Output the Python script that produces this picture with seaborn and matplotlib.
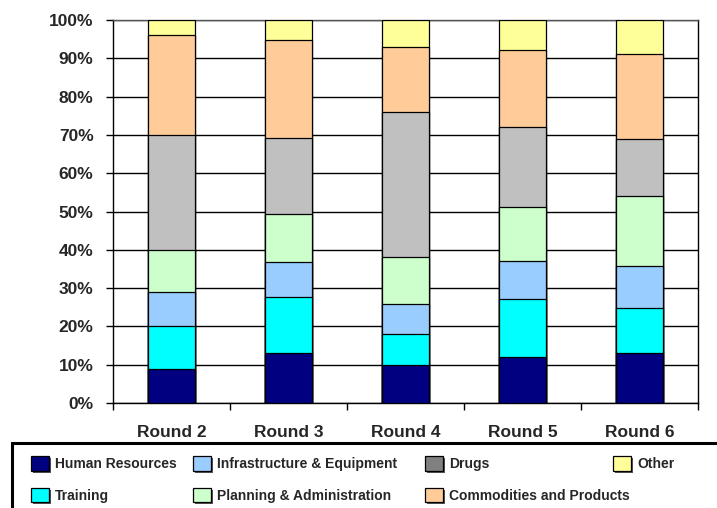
import matplotlib
matplotlib.use("Agg")
import matplotlib.pyplot as plt
import matplotlib.patches as mpatches
import matplotlib.patheffects as pe
from matplotlib.ticker import FuncFormatter, FixedLocator
import numpy as np
import pandas as pd
import seaborn as sns

rounds = ["Round 2", "Round 3", "Round 4", "Round 5", "Round 6"]
series_names = ["Human Resources", "Training", "Infrastructure & Equipment",
                "Planning & Administration", "Drugs", "Commodities and Products", "Other"]
human_resources = [9.0, 13.0, 9.9, 12.0, 13.1]
training = [11.0, 14.6, 8.2, 15.1, 11.8]
infrastructure = [9.0, 9.1, 7.8, 9.9, 11.0]
planning = [11.0, 12.7, 12.3, 14.1, 18.1]
drugs = [30.0, 19.9, 37.7, 21.0, 14.9]
commodities = [26.0, 25.6, 17.0, 20.1, 22.2]
other = [4.0, 5.1, 7.1, 7.8, 8.9]

bar_colors = ["#000080", "#00FFFF", "#99CCFF", "#CCFFCC", "#C0C0C0", "#FFCC99", "#FFFF99"]
legend_colors = ["#000080", "#00FFFF", "#99CCFF", "#CCFFCC", "#808080", "#FFCC99", "#FFFF99"]

values = [human_resources, training, infrastructure, planning, drugs, commodities, other]
df = pd.DataFrame({name: v for name, v in zip(series_names, values)}, index=rounds)
cum = df.cumsum(axis=1)
cum = cum.div(cum[series_names[-1]], axis=0) * 100

sns.set_style("white")
plt.rcParams["font.family"] = ["Liberation Sans", "DejaVu Sans"]
plt.rcParams["font.weight"] = "bold"

W, H = 717, 508
fig = plt.figure(figsize=(W / 100, H / 100), dpi=100)
ax = fig.add_axes([113 / W, 1 - 403 / H, (698 - 113) / W, (403 - 20) / H])

for name, color in reversed(list(zip(series_names, bar_colors))):
    sns.barplot(x=list(cum.index), y=cum[name].values, color=color, saturation=1,
                width=0.4, edgecolor="black", linewidth=0.9, ax=ax, zorder=3)

ax.set_ylim(0, 100)
ax.set_xlim(-0.5, 4.5)
ax.set_yticks(np.arange(0, 101, 10))
ax.yaxis.set_major_formatter(FuncFormatter(lambda v, p: f"{int(v)}%"))
ax.yaxis.grid(True, color="black", linewidth=1.0, zorder=0)
ax.set_axisbelow(True)
ax.set_xlabel("")
ax.set_ylabel("")

ax.tick_params(axis="y", which="major", direction="out", length=5, width=1,
               color="black", pad=9, labelsize=12.5, left=True)
ax.tick_params(axis="x", which="major", length=0, pad=16, labelsize=12.5)
for lab in ax.get_xticklabels() + ax.get_yticklabels():
    lab.set_fontweight("bold")
ax.xaxis.set_minor_locator(FixedLocator(np.arange(-0.5, 5, 1.0)))
ax.tick_params(axis="x", which="minor", direction="out", length=5, width=1,
               color="black", bottom=True)

for s in ax.spines.values():
    s.set_color("black")
    s.set_linewidth(1.0)
ax.spines["top"].set_color("#555555")

# Legend frame (extends beyond the figure edge)
frame = mpatches.Rectangle((12 / W, -0.05), 1.05, (1 - 442.7 / H) + 0.05,
                           transform=fig.transFigure, fill=False,
                           edgecolor="black", linewidth=2.2, clip_on=False)
fig.patches.append(frame)

def make_handle(i):
    return mpatches.Patch(facecolor=legend_colors[i], edgecolor="black",
                          linewidth=0.9, label=series_names[i])

columns = [([0, 1], 31), ([2, 3], 193), ([4, 5], 425), ([6], 613)]
fs = 10.0
for idx, xpx in columns:
    handles = [make_handle(i) for i in idx]
    leg = fig.legend(handles=handles, loc="upper left",
                     bbox_to_anchor=(xpx / W, 1 - 456 / H),
                     bbox_transform=fig.transFigure, frameon=False,
                     borderpad=0, borderaxespad=0, handlelength=1.3,
                     handleheight=1.25, handletextpad=0.45, labelspacing=1.2,
                     prop={"size": fs, "weight": "bold"})
    for h in leg.legend_handles:
        h.set_path_effects([pe.SimplePatchShadow(offset=(1.5, -1.5),
                                                 shadow_rgbFace="#555555", alpha=1.0),
                            pe.Normal()])

fig.savefig("out.png", dpi=100)
